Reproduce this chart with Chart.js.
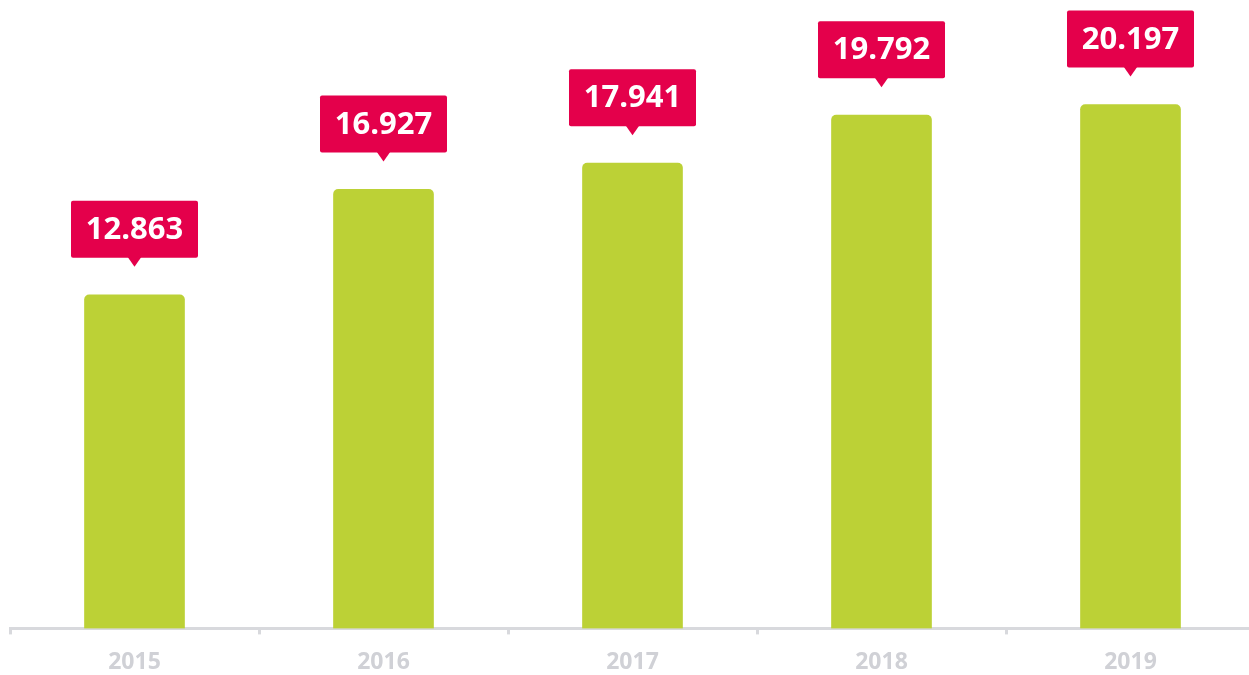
<!DOCTYPE html>
<html>
<head>
<meta charset="utf-8">
<script src="https://cdn.jsdelivr.net/npm/chart.js@4"></script>
<style>
  html, body { margin: 0; padding: 0; background: #fff; overflow: hidden; }
  #wrap { width: 1255px; height: 691px; }
</style>
</head>
<body>
<div id="wrap"><canvas id="chart"></canvas></div>
<script>
// Data
const years = ["2015", "2016", "2017", "2018", "2019"];
const values = [12863, 16927, 17941, 19792, 20197];

const barColor = "#bcd136";
const boxColor = "#e4004b";
const axisColor = "#d8d9dd";

// German thousands separator: 12863 -> 12.863
function fmt(v) {
  return String(v).replace(/\B(?=(\d{3})+(?!\d))/g, ".");
}

// Red callout boxes above the bars
const calloutPlugin = {
  id: "callouts",
  afterDatasetsDraw(chart) {
    const ctx = chart.ctx;
    const meta = chart.getDatasetMeta(0);
    ctx.save();
    meta.data.forEach((bar, i) => {
      const w = 127, h = 57;
      const tip = bar.y - 28;
      const bottom = tip - 9;
      const left = bar.x - w / 2;
      ctx.fillStyle = boxColor;
      ctx.beginPath();
      ctx.roundRect(left, bottom - h, w, h, 2);
      ctx.fill();
      // pointer
      ctx.beginPath();
      ctx.moveTo(bar.x - 7, bottom - 1);
      ctx.lineTo(bar.x + 7, bottom - 1);
      ctx.lineTo(bar.x, tip);
      ctx.closePath();
      ctx.fill();
      ctx.fillStyle = "#fff";
      ctx.font = "bold 31px 'Open Sans'";
      ctx.textAlign = "center";
      ctx.textBaseline = "middle";
      ctx.fillText(fmt(values[i]), bar.x, bottom - h / 2 + 1);
    });
    ctx.restore();
  }
};

const ctx = document.querySelector("#chart").getContext("2d");
new Chart(ctx, {
  type: "bar",
  data: {
    labels: years,
    datasets: [
      {
        data: values,
        backgroundColor: barColor,
        barThickness: 100,
        borderRadius: { topLeft: 5, topRight: 5 },
        borderSkipped: "bottom",
      },
    ],
  },
  options: {
    responsive: true,
    maintainAspectRatio: false,
    animation: false,
    layout: { padding: { top: 6, left: 10, right: 0, bottom: 1 } },
    plugins: { legend: { display: false }, tooltip: { enabled: false } },
    scales: {
      y: { display: false, min: 0, max: 24000 },
      x: {
        grid: {
          offset: true,
          drawOnChartArea: false,
          drawTicks: true,
          tickLength: 6,
          color: axisColor,
          lineWidth: 3,
        },
        border: { display: true, color: axisColor, width: 3 },
        ticks: {
          color: "#d0d1d6",
          padding: 14,
          font: { family: "'Open Sans'", size: 23, weight: "bold" },
        },
      },
    },
  },
  plugins: [calloutPlugin],
});
</script>
</body>
</html>
